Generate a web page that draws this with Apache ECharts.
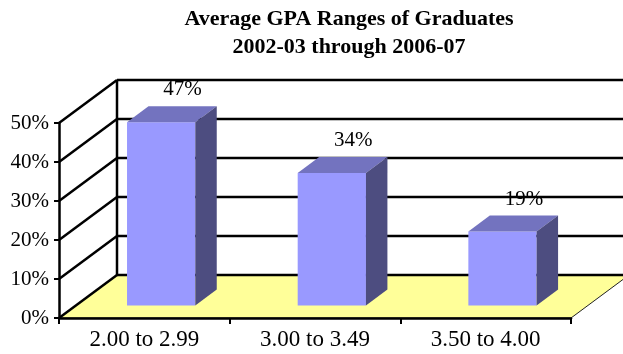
<!DOCTYPE html>
<html>
<head>
<meta charset="utf-8">
<script src="https://cdn.jsdelivr.net/npm/echarts@6/dist/echarts.min.js"></script>
<style>
  html, body { margin: 0; padding: 0; background: #fff; }
  #chart { width: 623px; height: 354px; }
</style>
</head>
<body>
<div id="chart"></div>
<script>
// GPA bands and the share of graduates in each
const categories = ['2.00 to 2.99', '3.00 to 3.49', '3.50 to 4.00'];
const shares = [47, 34, 19];
const valueTicks = [0, 10, 20, 30, 40, 50];
const titleLines = ['Average GPA Ranges of Graduates', '2002-03 through 2006-07'];

// 3D look: how far the back wall sits behind the front plane (px)
const DEPTH = [58, -43];
const BAR_FRONT = 0.29;   // bar front face, as a fraction of depth
const BAR_BACK = 0.66;    // bar back face
const BAR_WIDTH = 0.4;    // fraction of a category band

const SERIF = '"Liberation Serif", "Times New Roman", serif';
const LINE = '#000';

const chart = echarts.init(document.getElementById('chart'));

function frameRender(params, api) {
  const cs = params.coordSys;
  const x0 = cs.x, x1 = cs.x + cs.width;
  const y0 = api.coord([0, 0])[1];
  const dx = DEPTH[0], dy = DEPTH[1];
  const children = [];
  // floor
  children.push({
    type: 'polygon',
    shape: { points: [[x0, y0], [x1, y0], [x1 + dx, y0 + dy], [x0 + dx, y0 + dy]] },
    style: { fill: '#FFFF99', stroke: '#222', lineWidth: 1 }
  });
  // back wall gridlines and side wall diagonals
  valueTicks.forEach(function (v) {
    const y = api.coord([0, v])[1];
    children.push({
      type: 'line',
      shape: { x1: x0 + dx, y1: y + dy, x2: x1 + dx, y2: y + dy },
      style: { stroke: LINE, lineWidth: 2.5 }
    });
    children.push({
      type: 'line',
      shape: { x1: x0, y1: y, x2: x0 + dx, y2: y + dy },
      style: { stroke: LINE, lineWidth: 2.5 }
    });
  });
  // back corner edge
  const yTop = api.coord([0, valueTicks[valueTicks.length - 1]])[1];
  children.push({
    type: 'line',
    shape: { x1: x0 + dx, y1: y0 + dy, x2: x0 + dx, y2: yTop + dy },
    style: { stroke: LINE, lineWidth: 2.5 }
  });
  return { type: 'group', children: children };
}

function barRender(params, api) {
  const i = api.value(0);
  const v = api.value(1);
  const base = api.coord([i, 0]);
  const top = api.coord([i, v]);
  const bw = api.size([1, 0])[0] * BAR_WIDTH;
  const fx = DEPTH[0] * BAR_FRONT, fy = DEPTH[1] * BAR_FRONT;
  const ddx = DEPTH[0] * (BAR_BACK - BAR_FRONT), ddy = DEPTH[1] * (BAR_BACK - BAR_FRONT);
  const L = base[0] - bw / 2 + fx, R = L + bw;
  const B = base[1] + fy, T = top[1] + fy;
  return {
    type: 'group',
    children: [
      { type: 'rect', shape: { x: L, y: T, width: bw, height: B - T },
        style: { fill: '#9999FF' } },
      { type: 'polygon', shape: { points: [[L, T], [R, T], [R + ddx, T + ddy], [L + ddx, T + ddy]] },
        style: { fill: '#7373BF' } },
      { type: 'polygon', shape: { points: [[R, T], [R, B], [R + ddx, B + ddy], [R + ddx, T + ddy]] },
        style: { fill: '#4D4D80' } },
      { type: 'text',
        style: { x: (L + R) / 2 + ddx, y: T + ddy - 6, text: v + '%',
          textAlign: 'center', textVerticalAlign: 'bottom',
          font: '21px ' + SERIF, fill: '#000' } }
    ]
  };
}

chart.setOption({
  animation: false,
  backgroundColor: '#fff',
  graphic: titleLines.map(function (t, k) {
    return {
      type: 'text', x: 349, y: 19 + k * 28,
      style: { text: t, textAlign: 'center', textVerticalAlign: 'middle',
        font: 'bold 22px ' + SERIF, fill: '#000' }
    };
  }),
  grid: { left: 59, right: 52, top: 123, bottom: 36 },
  xAxis: {
    type: 'category',
    data: categories,
    z: 10,
    axisLine: { lineStyle: { color: LINE, width: 2.5 } },
    axisTick: { show: true, length: 6, lineStyle: { color: LINE, width: 2 } },
    axisLabel: { color: '#000', fontFamily: SERIF, fontSize: 23, margin: 10 }
  },
  yAxis: {
    type: 'value',
    min: 0, max: 50, interval: 10,
    z: 10,
    splitLine: { show: false },
    axisLine: { show: true, lineStyle: { color: LINE, width: 2.5 } },
    axisTick: { show: true, length: 5, lineStyle: { color: LINE, width: 2 } },
    axisLabel: { color: '#000', fontFamily: SERIF, fontSize: 21, margin: 10,
      formatter: '{value}%' }
  },
  series: [
    { type: 'custom', z: 1, renderItem: frameRender, data: [[0, 0]], silent: true },
    { type: 'custom', z: 3, renderItem: barRender,
      data: shares.map(function (s, i) { return [i, s]; }) }
  ]
});
</script>
</body>
</html>
